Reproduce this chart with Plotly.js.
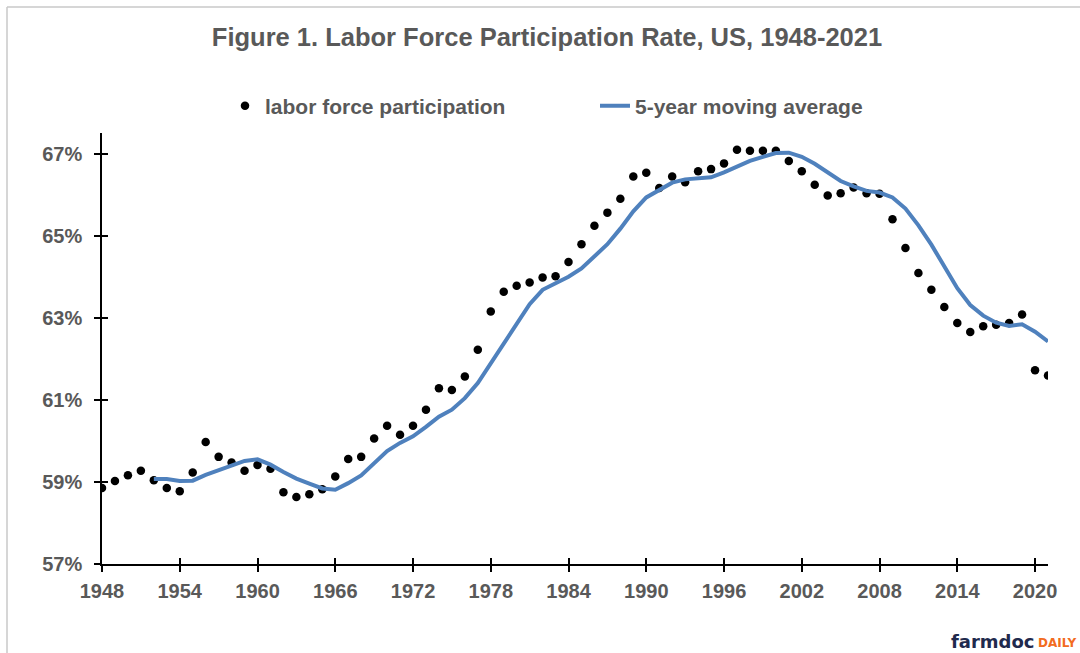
<!DOCTYPE html>
<html>
<head>
<meta charset="utf-8">
<script src="https://cdn.plot.ly/plotly-3.0.1.min.js"></script>
<style>
html,body{margin:0;padding:0;background:#fff;}
#chart{width:1080px;height:653px;}
</style>
</head>
<body>
<div id="chart"></div>
<script>
const years = [1948,1949,1950,1951,1952,1953,1954,1955,1956,1957,1958,1959,1960,1961,1962,1963,1964,1965,1966,1967,1968,1969,1970,1971,1972,1973,1974,1975,1976,1977,1978,1979,1980,1981,1982,1983,1984,1985,1986,1987,1988,1989,1990,1991,1992,1993,1994,1995,1996,1997,1998,1999,2000,2001,2002,2003,2004,2005,2006,2007,2008,2009,2010,2011,2012,2013,2014,2015,2016,2017,2018,2019,2020,2021];
const participation = [58.85,59.02,59.16,59.27,59.04,58.85,58.77,59.23,59.97,59.61,59.47,59.27,59.41,59.32,58.75,58.63,58.70,58.82,59.13,59.56,59.61,60.06,60.37,60.15,60.37,60.76,61.28,61.24,61.57,62.22,63.15,63.63,63.78,63.86,63.98,64.01,64.36,64.79,65.24,65.56,65.90,66.44,66.53,66.16,66.44,66.30,66.57,66.62,66.76,67.09,67.07,67.07,67.07,66.82,66.57,66.24,65.98,66.03,66.17,66.03,66.02,65.40,64.70,64.09,63.68,63.26,62.87,62.65,62.79,62.83,62.87,63.08,61.72,61.59];
const maYears = [1952,1953,1954,1955,1956,1957,1958,1959,1960,1961,1962,1963,1964,1965,1966,1967,1968,1969,1970,1971,1972,1973,1974,1975,1976,1977,1978,1979,1980,1981,1982,1983,1984,1985,1986,1987,1988,1989,1990,1991,1992,1993,1994,1995,1996,1997,1998,1999,2000,2001,2002,2003,2004,2005,2006,2007,2008,2009,2010,2011,2012,2013,2014,2015,2016,2017,2018,2019,2020,2021];
const movingAverage = [59.07,59.07,59.02,59.03,59.17,59.29,59.41,59.51,59.55,59.42,59.24,59.08,58.96,58.84,58.81,58.97,59.16,59.44,59.75,59.95,60.11,60.34,60.59,60.76,61.04,61.41,61.89,62.36,62.87,63.33,63.68,63.85,64.00,64.20,64.48,64.79,65.17,65.59,65.93,66.12,66.29,66.37,66.40,66.42,66.54,66.67,66.82,66.92,67.01,67.02,66.92,66.75,66.54,66.33,66.20,66.09,66.05,65.93,65.66,65.25,64.78,64.23,63.72,63.31,63.05,62.88,62.80,62.84,62.66,62.42];
const xTickVals = [1948,1954,1960,1966,1972,1978,1984,1990,1996,2002,2008,2014,2020];
const yTickVals = [57,59,61,63,65,67];
const yTickText = ['57%','59%','61%','63%','65%','67%'];

const FONT = 'Arial, "Liberation Sans", Helvetica, sans-serif';
const GRAY = '#595959';

const traces = [
  {
    x: years, y: participation, type: 'scatter', mode: 'markers',
    name: 'labor force participation',
    marker: {color: '#000000', size: 8.5},
    hoverinfo: 'x+y'
  },
  {
    x: maYears, y: movingAverage, type: 'scatter', mode: 'lines',
    name: '5-year moving average',
    line: {color: '#4F81BD', width: 4},
    hoverinfo: 'x+y'
  },
  {
    x: [], y: [], type: 'scatter', mode: 'markers',
    xaxis: 'x2', yaxis: 'y2', showlegend: false, hoverinfo: 'skip'
  }
];

const axisCommon = {
  showgrid: false, zeroline: false, showline: true,
  linecolor: '#000000', linewidth: 1.5,
  tickcolor: '#000000', tickwidth: 1.5, ticklen: 6,
  tickfont: {family: FONT, size: 20, color: GRAY, weight: 700}
};

const layout = {
  width: 1080, height: 653,
  margin: {l: 102, r: 32, t: 133, b: 89, pad: 0},
  paper_bgcolor: '#ffffff', plot_bgcolor: '#ffffff',
  font: {family: FONT, color: GRAY},
  title: {
    text: 'Figure 1. Labor Force Participation Rate, US, 1948-2021',
    font: {family: FONT, size: 25.5, color: GRAY, weight: 700},
    xref: 'container', x: 547/1080, xanchor: 'center',
    yref: 'container', y: 1 - 37/653, yanchor: 'middle'
  },
  showlegend: true,
  legend: {
    orientation: 'h',
    xref: 'container', x: 225/1080, xanchor: 'left',
    yref: 'container', y: 1 - 106/653, yanchor: 'middle',
    font: {family: FONT, size: 21, color: GRAY, weight: 700},
    entrywidth: 325, entrywidthmode: 'pixels',
    bgcolor: 'rgba(0,0,0,0)', borderwidth: 0,
    traceorder: 'normal'
  },
  xaxis: Object.assign({}, axisCommon, {
    range: [1948, 2021], tickvals: xTickVals, ticks: 'outside',
    ticklabelstandoff: 2, fixedrange: true
  }),
  yaxis: Object.assign({}, axisCommon, {
    range: [57, 67.5], tickvals: yTickVals, ticktext: yTickText, ticks: 'outside',
    ticklabelstandoff: 8, fixedrange: true
  }),
  xaxis2: Object.assign({}, axisCommon, {
    range: [1948, 2021], tickvals: xTickVals, ticks: 'inside',
    showticklabels: false, overlaying: 'x', anchor: 'y2', side: 'bottom', fixedrange: true
  }),
  yaxis2: Object.assign({}, axisCommon, {
    range: [57, 67.5], tickvals: yTickVals, ticks: 'inside',
    showticklabels: false, overlaying: 'y', anchor: 'x2', side: 'left', fixedrange: true
  }),
  shapes: [
    {type: 'line', xref: 'paper', yref: 'paper',
     x0: (7-102)/946, x1: (1080-102)/946, y0: (653-7-89)/431, y1: (653-7-89)/431,
     line: {color: '#c8c8c8', width: 1.5}},
    {type: 'line', xref: 'paper', yref: 'paper',
     x0: (7-102)/946, x1: (7-102)/946, y0: (653-7-89)/431, y1: -89/431,
     line: {color: '#c8c8c8', width: 1.5}}
  ],
  annotations: [
    {text: 'farmdoc', xref: 'paper', yref: 'paper', showarrow: false,
     x: (1037-102)/946, xanchor: 'right', y: (653-641-89)/431, yanchor: 'middle',
     font: {family: '"DejaVu Sans", Verdana, sans-serif', size: 18, color: '#1f2a4d', weight: 700}},
    {text: 'DAILY', xref: 'paper', yref: 'paper', showarrow: false,
     x: (1036-102)/946, xanchor: 'left', y: (653-643-89)/431, yanchor: 'middle',
     font: {family: '"DejaVu Sans", Verdana, sans-serif', size: 12, color: '#f26b21', weight: 700}}
  ]
};

Plotly.newPlot('chart', traces, layout, {displayModeBar: false, staticPlot: false, responsive: false});
</script>
</body>
</html>
